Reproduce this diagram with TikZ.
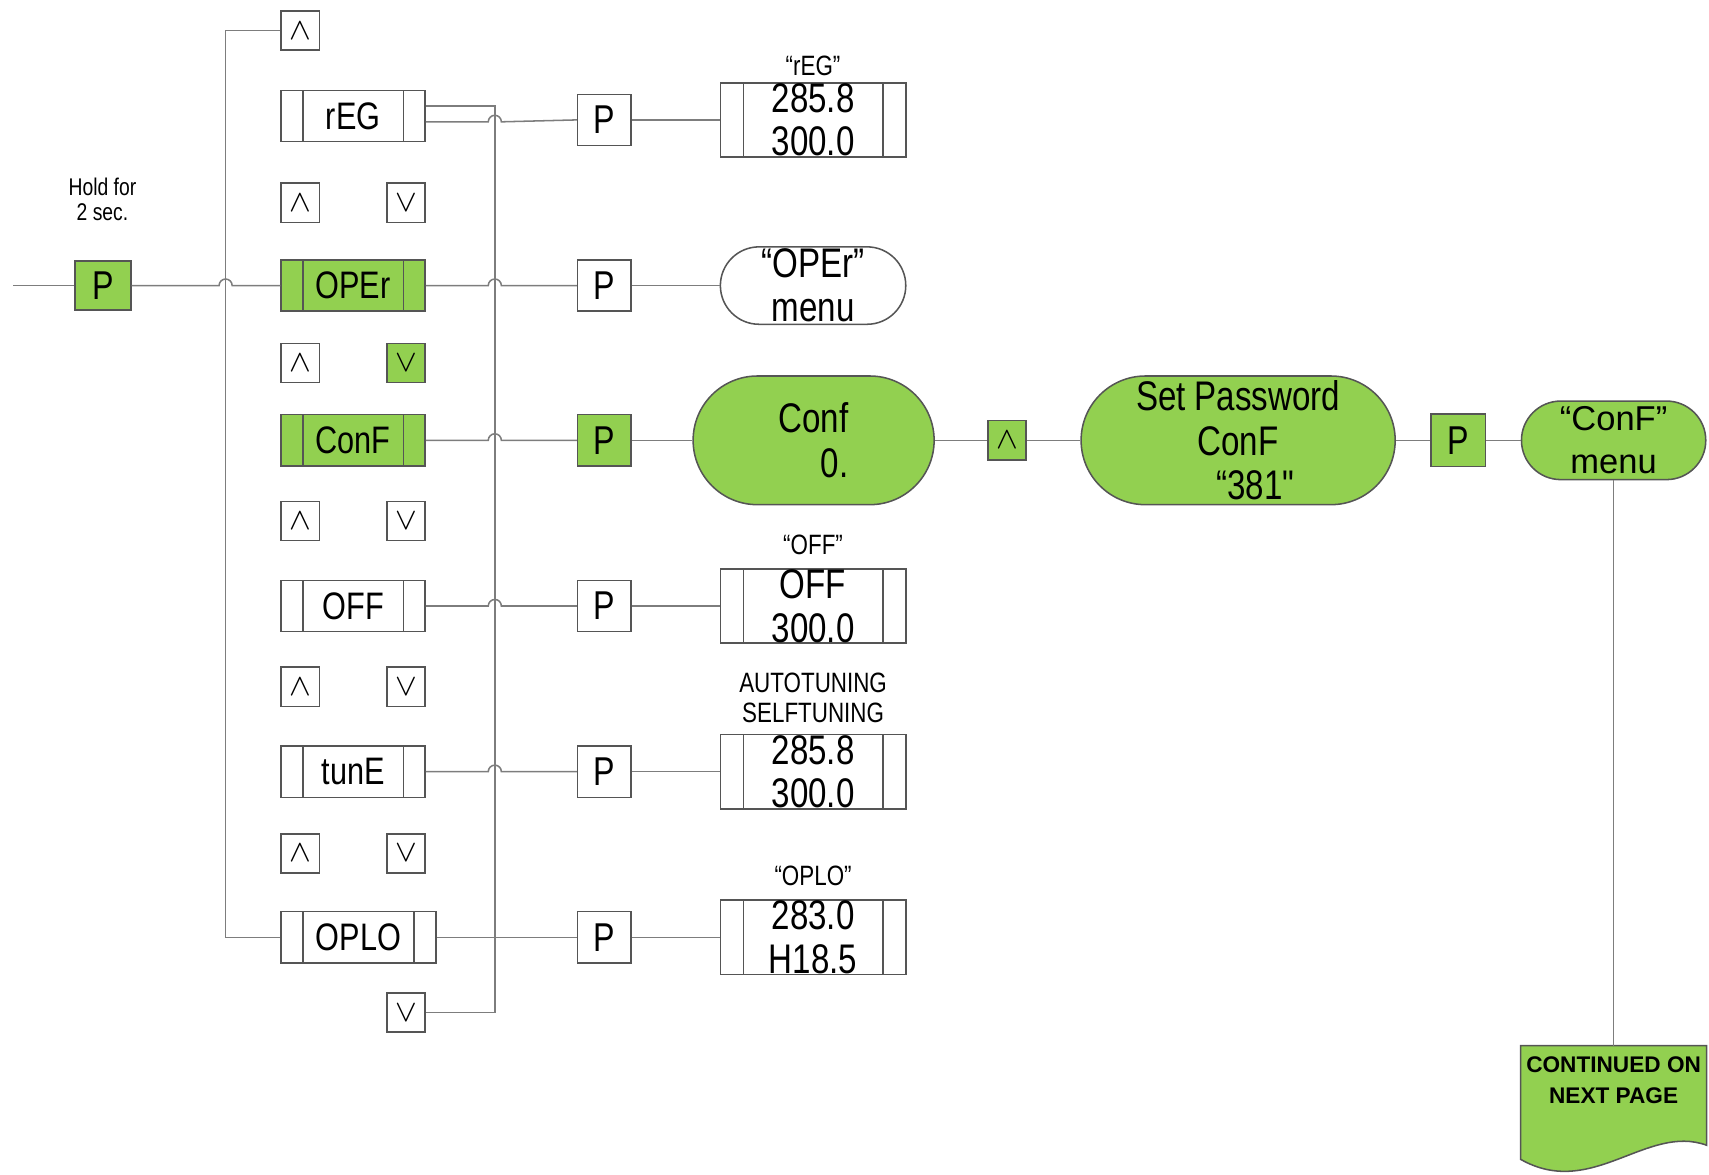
\documentclass[tikz,border=0pt]{standalone}
\usepackage{fontspec}
\setmainfont{Liberation Sans}
\newfontfamily\narrowfont{Liberation Sans}[FakeStretch=0.8]
\usepackage{xcolor}
\definecolor{swgreen}{RGB}{146,208,80}
\definecolor{wiregray}{RGB}{125,125,125}
\definecolor{edgegray}{RGB}{85,85,85}
\usetikzlibrary{positioning, calc, shapes.misc, backgrounds}

\begin{document}
\begin{tikzpicture}[x=0.01cm, y=-0.01cm,
  wire/.style={draw=wiregray, line width=0.4pt},
  key/.style={rectangle, draw=edgegray, line width=0.4pt, fill=white, inner sep=0pt,
              minimum width=0.49cm, minimum height=0.47cm,
              font=\narrowfont\fontsize{10.5}{11}\selectfont},
  arrowkey/.style={key, minimum width=0.35cm, minimum height=0.36cm,
                   font=\fontsize{8}{8}\selectfont},
  bars/.style={path picture={
      \draw[edgegray, line width=0.4pt] ([xshift=#1]path picture bounding box.north west)
        -- ([xshift=#1]path picture bounding box.south west);
      \draw[edgegray, line width=0.4pt] ([xshift=-#1]path picture bounding box.north east)
        -- ([xshift=-#1]path picture bounding box.south east);}},
  item/.style={key, minimum width=1.32cm, minimum height=0.47cm, bars=0.2cm,
               font=\narrowfont\fontsize{10}{11}\selectfont},
  display/.style={key, minimum width=1.70cm, minimum height=0.68cm, bars=0.21cm,
                  align=center, font=\narrowfont\fontsize{10.8}{11.4}\selectfont},
  stadium/.style={rounded rectangle, draw=edgegray, line width=0.4pt, fill=swgreen,
                  inner sep=0pt, align=center,
                  font=\narrowfont\fontsize{10.8}{11.6}\selectfont},
  lbl/.style={inner sep=0pt, align=center, font=\narrowfont\fontsize{7.3}{7.9}\selectfont}
]
\useasboundingbox (0,0) rectangle (1568,1078);

% Entry key
\coordinate (start) at (12,262);
\node[key, fill=swgreen, minimum width=0.51cm, minimum height=0.45cm] (pmain) at (94.5,262) {P};
\node[lbl, font=\narrowfont\fontsize{6.3}{6.5}\selectfont] (hold) at (94,183) {Hold for\\2 sec.};

\coordinate (busL) at (207,0);
\coordinate (busR) at (454,0);

% Menu column
\node[arrowkey] (up0) at (275.5,28) {$\wedge$};
\node[item] (reg) at (324,106.5) {rEG};
\node[item, fill=swgreen] (oper) at (324,262) {OPEr};
\node[item, fill=swgreen] (conf) at (324,404) {ConF};
\node[item] (off) at (324,556) {OFF};
\node[item] (tune) at (324,708) {tunE};
\node[item, minimum width=1.42cm] (oplo) at (329,860) {OPLO};
\foreach \i/\y in {1/186, 3/478, 4/630, 5/783} {
  \node[arrowkey] (up\i) at (275.5,\y) {$\wedge$};
  \node[arrowkey] (dn\i) at (372.5,\y) {$\vee$};
}
\node[arrowkey] (up2) at (275.5,333) {$\wedge$};
\node[arrowkey, fill=swgreen] (dn2) at (372.5,333) {$\vee$};
\node[arrowkey] (dn6) at (372.5,929) {$\vee$};

% P keys
\foreach \n/\y in {preg/110, poper/262, poff/556, ptune/708, poplo/860}
  \node[key] (\n) at (554.5,\y) {P};
\node[key, fill=swgreen] (pconf) at (554.5,404) {P};

% Displays
\node[display] (regd) at (746,110) {285.8\\300.0};
\node[lbl] (regl) at (746,60) {“rEG”};
\node[stadium, fill=white, minimum width=1.70cm, minimum height=0.71cm,
      font=\narrowfont\fontsize{10.8}{11.4}\selectfont] (opmenu) at (746,262) {“OPEr”\\menu};
\node[display] (offd) at (746,556) {OFF\\300.0};
\node[lbl] (offl) at (746,500) {“OFF”};
\node[display] (tuned) at (746,708) {285.8\\300.0};
\node[lbl] (tunel) at (746,640) {AUTOTUNING\\SELFTUNING};
\node[display] (oplod) at (746,860) {283.0\\H18.5};
\node[lbl] (oplol) at (746,804) {“OPLO”};

% Password path
\node[stadium, minimum width=2.21cm, minimum height=1.18cm] (confs) at (746.5,404) {Conf\\\hspace*{11pt}0.};
\node[arrowkey, fill=swgreen] (cup) at (924,404) {$\wedge$};
\node[stadium, minimum width=2.88cm, minimum height=1.18cm] (setpw) at (1136,404)
  {Set Password\\ConF\\\hspace*{9pt}“381"};
\node[key, fill=swgreen, minimum width=0.50cm, minimum height=0.48cm] (pcf) at (1338,404) {P};
\node[stadium, minimum width=1.69cm, minimum height=0.72cm,
      font=\fontsize{9}{11.3}\selectfont] (cfmenu) at (1480.5,404) {“ConF”\\menu};
\node[inner sep=0pt, minimum width=1.69cm, minimum height=0.62cm, align=center,
      font=\bfseries\fontsize{5.9}{8.2}\selectfont] (cont) at (1480.5,991) {CONTINUED ON\\NEXT PAGE};
\begin{scope}[on background layer]
  \filldraw[fill=swgreen, draw=edgegray, line width=0.4pt]
    (cont.north west) -- (cont.north east) -- ($(cont.south east)+(0,28)$)
    .. controls ($(cont.south east)+(-55,8)$) and ($(cont.south)+(-20,78)$)
    .. ($(cont.south west)+(0,41)$) -- cycle;
\end{scope}

% Connectors
\draw[wire] (start) -- (pmain.west);
\draw[wire] (pmain.east) -- ($(pmain.east -| busL)+(-6,0)$)
  arc[start angle=180, end angle=360, radius=6] -- (oper.west);
\draw[wire] (up0.west) -- (up0.west -| busL) -- (oplo.west -| busL) -- (oplo.west);
\coordinate (regtop) at ([yshift=2.6pt]reg.east);
\coordinate (reglow) at ([yshift=-1.5pt]reg.east);
\draw[wire] (regtop) -- (regtop -| busR) -- (dn6.east -| busR) -- (dn6.east);
\draw[wire] (reglow) -- ($(reglow -| busR)+(-6,0)$)
  arc[start angle=180, end angle=360, radius=6] -- (preg.west);
\foreach \m/\p in {oper/poper, conf/pconf, off/poff, tune/ptune}
  \draw[wire] (\m.east) -- ($(\m.east -| busR)+(-6,0)$)
    arc[start angle=180, end angle=360, radius=6] -- (\p.west);
\draw[wire] (oplo.east) -- (poplo.west);
\foreach \p/\d in {preg/regd, poper/opmenu, poff/offd, ptune/tuned, poplo/oplod}
  \draw[wire] (\p.east) -- (\d.west);
\draw[wire] (pconf.east) -- (confs.west);
\draw[wire] (confs.east) -- (cup.west);
\draw[wire] (cup.east) -- (setpw.west);
\draw[wire] (setpw.east) -- (pcf.west);
\draw[wire] (pcf.east) -- (cfmenu.west);
\draw[wire] (cfmenu.south) -- (cont.north);
\end{tikzpicture}
\end{document}
